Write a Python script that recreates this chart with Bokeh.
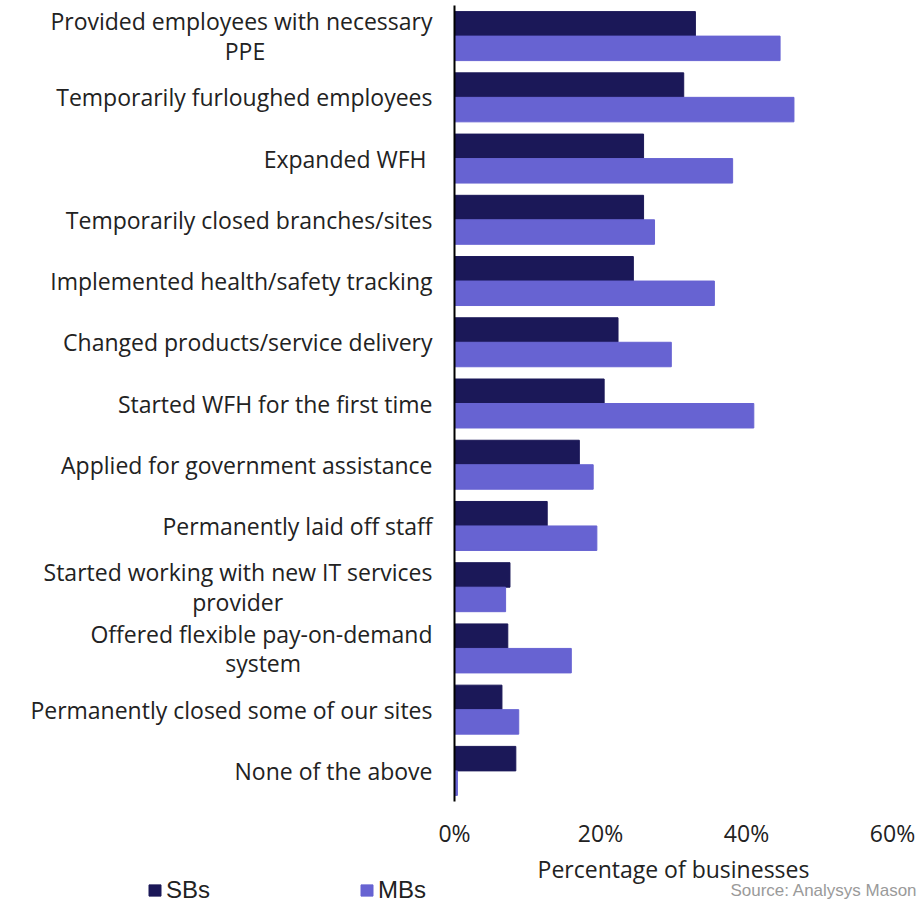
from bokeh.plotting import figure
from bokeh.layouts import column
from bokeh.models import FactorRange, Range1d, FixedTicker, Legend, LegendItem, Label, ColumnDataSource
from bokeh.transform import dodge
from bokeh.embed import file_html
from bokeh.resources import INLINE

NB = "\u00a0"
categories = [
    "Provided employees with necessary\nPPE" + NB * 28,
    "Temporarily furloughed employees",
    "Expanded WFH ",
    "Temporarily closed branches/sites",
    "Implemented health/safety tracking",
    "Changed products/service delivery",
    "Started WFH for the first time",
    "Applied for government assistance",
    "Permanently laid off staff",
    "Started working with new IT services\nprovider" + NB * 25,
    "Offered flexible pay-on-demand\nsystem" + NB * 22,
    "Permanently closed some of our sites",
    "None of the above",
]
sb_values = [33.0, 31.4, 25.9, 25.9, 24.5, 22.4, 20.5, 17.1, 12.7, 7.6, 7.3, 6.5, 8.4]
mb_values = [44.6, 46.5, 38.1, 27.4, 35.6, 29.7, 41.0, 19.0, 19.5, 7.0, 16.0, 8.8, 0.4]
x_ticks = [0, 20, 40, 60]
series_names = ["SBs", "MBs"]
x_title = "Percentage of businesses"
source_text = "Source: Analysys Mason"

SB_COLOR = "#1b1858"
MB_COLOR = "#6763d2"
FONT = "Open Sans"
TEXT = "#222222"

src = ColumnDataSource(dict(cat=categories, sb=sb_values, mb=mb_values))

p = figure(width=919, height=852, output_backend="svg", toolbar_location=None,
           y_range=FactorRange(factors=list(reversed(categories)), range_padding=0),
           x_range=Range1d(0, 60),
           min_border_left=454, min_border_right=27, min_border_top=5, min_border_bottom=51)

p.hbar(y=dodge("cat", 0.2, range=p.y_range), right="sb", left=0, height=0.4,
       color=SB_COLOR, source=src)
p.hbar(y=dodge("cat", -0.2, range=p.y_range), right="mb", left=0, height=0.4,
       color=MB_COLOR, source=src)

p.outline_line_color = None
p.xgrid.visible = False
p.ygrid.visible = False

p.xaxis.ticker = FixedTicker(ticks=x_ticks)
p.xaxis.major_label_overrides = {t: f"{t}%" for t in x_ticks}
p.xaxis.axis_line_color = None
p.xaxis.major_tick_line_color = None
p.xaxis.minor_tick_line_color = None
p.xaxis.major_tick_out = 0
p.xaxis.major_tick_in = 0
p.xaxis.major_label_standoff = 15
p.xaxis.major_label_text_font = FONT
p.xaxis.major_label_text_font_size = "23px"
p.xaxis.major_label_text_color = TEXT

p.yaxis.axis_line_color = "black"
p.yaxis.axis_line_width = 2
p.yaxis.major_tick_line_color = None
p.yaxis.minor_tick_line_color = None
p.yaxis.major_tick_out = 0
p.yaxis.major_tick_in = 0
p.yaxis.major_label_standoff = 22
p.yaxis.major_label_text_font = FONT
p.yaxis.major_label_text_font_size = "23px"
p.yaxis.major_label_text_color = TEXT
p.yaxis.major_label_text_line_height = 0.93

# footer: axis title, legend, source
p2 = figure(width=919, height=50, output_backend="svg", toolbar_location=None,
            x_axis_type=None, y_axis_type=None,
            x_range=Range1d(0, 1), y_range=Range1d(0, 1),
            min_border_left=0, min_border_right=0, min_border_top=0, min_border_bottom=0)
p2.frame_align = False
p2.outline_line_color = None
p2.grid.visible = False

proxy_sb = p2.hbar(y="sb", right="sb", height=1, color=SB_COLOR, source=src, visible=False)
proxy_mb = p2.hbar(y="mb", right="mb", height=1, color=MB_COLOR, source=src, visible=False)

legend = Legend(items=[LegendItem(label=series_names[0], renderers=[proxy_sb]),
                       LegendItem(label=series_names[1], renderers=[proxy_mb])],
                orientation="horizontal", location=(147, -2),
                border_line_color=None, background_fill_alpha=0,
                padding=0, margin=0, spacing=0,
                glyph_width=15, glyph_height=14, label_standoff=4,
                label_width=193,
                label_text_font="Liberation Sans", label_text_font_size="24px",
                label_text_color=TEXT)
p2.add_layout(legend, "center")

p2.add_layout(Label(x=673, y=34, x_units="screen", y_units="screen",
                    text=x_title, text_font=FONT, text_font_size="23px",
                    text_color=TEXT, text_baseline="middle", text_align="center"))
p2.add_layout(Label(x=917, y=12, x_units="screen", y_units="screen",
                    text=source_text, text_font="Liberation Sans", text_font_size="17px",
                    text_color="#9a9a9a", text_baseline="middle", text_align="right"))

layout = column(p, p2, spacing=0)
open("out.html", "w").write(file_html(layout, INLINE))
